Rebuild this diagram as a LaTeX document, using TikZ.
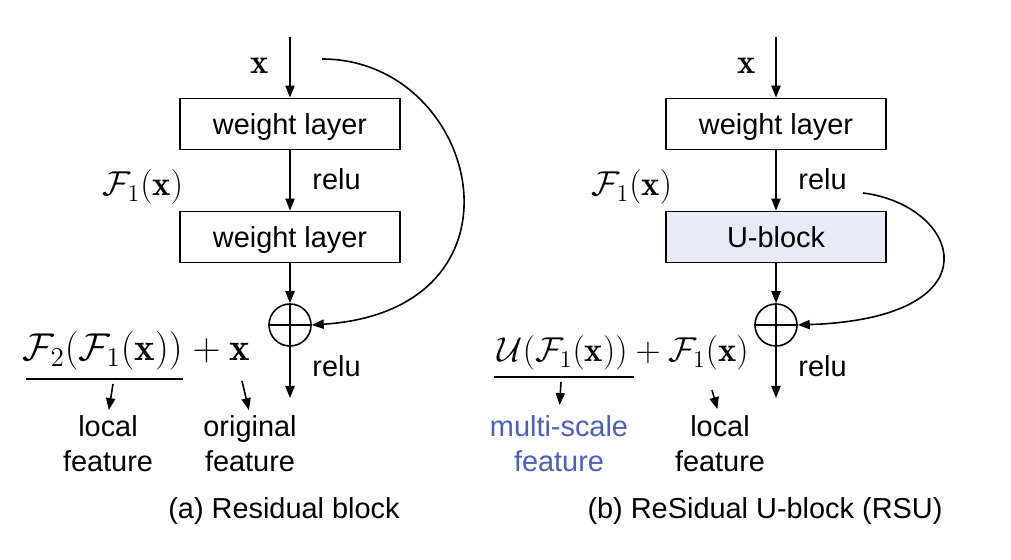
\RequirePackage{fix-cm}
\documentclass[tikz,border=0pt]{standalone}
\usepackage{fontspec}
\newfontfamily\arialfont{Liberation Sans}
\usetikzlibrary{arrows.meta}
\definecolor{ublock}{HTML}{E8EAF8}
\definecolor{msblue}{HTML}{4A5FC1}
\tikzset{
  arr/.style={-{Triangle[length=6pt,width=4.6pt]}, line width=0.8pt},
  layer/.style={draw, line width=0.9pt, minimum width=110pt, minimum height=25.5pt,
    inner sep=0pt, text height=13pt, text depth=2.8pt, font=\arialfont\fontsize{14.45}{17.5}\selectfont},
  txt/.style={inner sep=0pt, font=\arialfont\fontsize{14.45}{17.5}\selectfont},
  mth/.style={inner sep=0pt, font=\fontsize{17.28}{20}\selectfont},
  bigmth/.style={inner sep=0pt, font=\fontsize{19.4}{22}\selectfont},
  sumnode/.style={draw, circle, line width=0.8pt, minimum size=21pt, inner sep=0pt},
}
\begin{document}
\begin{tikzpicture}[x=0.5pt, y=-0.5pt]
    \useasboundingbox[fill=white] (0,0) rectangle (1011,560);

    % (a) Residual block
    \coordinate (inA) at (290,37);
    \node[layer] (wA1) at (290,124) {weight layer};
    \node[layer] (wA2) at (290,237) {weight layer};
    \node[sumnode] (sumA) at (290,325) {};
    \coordinate (outA) at (290,398);
    \draw[arr] (inA) -- (wA1);
    \draw[arr] (wA1) -- (wA2);
    \draw[arr] (wA2) -- (sumA);
    \draw[line width=0.8pt] (sumA.north) -- (sumA.south) (sumA.west) -- (sumA.east);
    \draw[arr] (sumA) -- (outA);
    \node[mth, anchor=base] (xA) at (260,74) {$\mathbf{x}$};
    \node[mth, anchor=base] (fA) at (143,196) {$\mathcal{F}_1(\mathbf{x})$};
    \node[txt, anchor=base west] (reluA1) at (312,190) {relu};
    \node[txt, anchor=base west] (reluA2) at (312,377) {relu};
    % skip connection
    \coordinate (skipA) at (322,59);
    \draw[arr] (skipA) .. controls (480,59) and (540,310) .. (sumA.east);
    % output formula
    \node[bigmth, anchor=base east] (lhsA) at (183,361) {$\mathcal{F}_2(\mathcal{F}_1(\mathbf{x}))$};
    \node[bigmth, anchor=base east] (rhsA) at (250,361) {${}+\mathbf{x}$};
    \draw[line width=0.8pt] ([xshift=2pt, yshift=-4pt]lhsA.south west) -- ([yshift=-4pt]lhsA.south east);
    \node[txt, anchor=north, align=center] (locA) at (108,415) {local\\feature};
    \node[txt, anchor=north, align=center] (origA) at (250,415) {original\\feature};
    \coordinate (uA) at (113,384);
    \coordinate (vA) at (242,381);
    \draw[arr, shorten >=2.5pt] (uA) -- (locA.north);
    \draw[arr, shorten >=2.5pt] (vA) -- (origA.north);
    \node[txt, anchor=base] (capA) at (284,518) {(a) Residual block};

    % (b) ReSidual U-block
    \coordinate (inB) at (776,37);
    \node[layer] (wB1) at (776,124) {weight layer};
    \node[layer, fill=ublock] (uB) at (776,237) {U-block};
    \node[sumnode] (sumB) at (776,325) {};
    \coordinate (outB) at (776,398);
    \draw[arr] (inB) -- (wB1);
    \draw[arr] (wB1) -- (uB);
    \draw[arr] (uB) -- (sumB);
    \draw[line width=0.8pt] (sumB.north) -- (sumB.south) (sumB.west) -- (sumB.east);
    \draw[arr] (sumB) -- (outB);
    \node[mth, anchor=base] (xB) at (747,74) {$\mathbf{x}$};
    \node[mth, anchor=base] (fB) at (632,196) {$\mathcal{F}_1(\mathbf{x})$};
    \node[txt, anchor=base west] (reluB1) at (798,190) {relu};
    \node[txt, anchor=base west] (reluB2) at (798,377) {relu};
    % skip connection
    \coordinate (skipB) at (863,193);
    \draw[arr] (skipB) .. controls (960,205) and (1000,318) .. (sumB.east);
    % output formula
    \node[mth, anchor=base east] (lhsB) at (628,362) {$\mathcal{U}(\mathcal{F}_1(\mathbf{x}))$};
    \node[mth, anchor=base east] (rhsB) at (749,362) {${}+\mathcal{F}_1(\mathbf{x})$};
    \draw[line width=0.8pt] ([xshift=-1.5pt, yshift=-3pt]lhsB.south west) -- ([xshift=3pt, yshift=-3pt]lhsB.south east);
    \node[txt, anchor=north, align=center, text=msblue] (msB) at (559,415) {multi-scale\\feature};
    \node[txt, anchor=north, align=center] (locB) at (720,415) {local\\feature};
    \coordinate (uB1) at (561,382);
    \coordinate (vB) at (712,390);
    \draw[arr, shorten >=5pt] (uB1) -- (msB.north);
    \draw[arr, shorten >=3pt] (vB) -- ([xshift=-0.5pt]locB.north);
    \node[txt, anchor=base] (capB) at (765,518) {(b) ReSidual U-block (RSU)};
\end{tikzpicture}
\end{document}
